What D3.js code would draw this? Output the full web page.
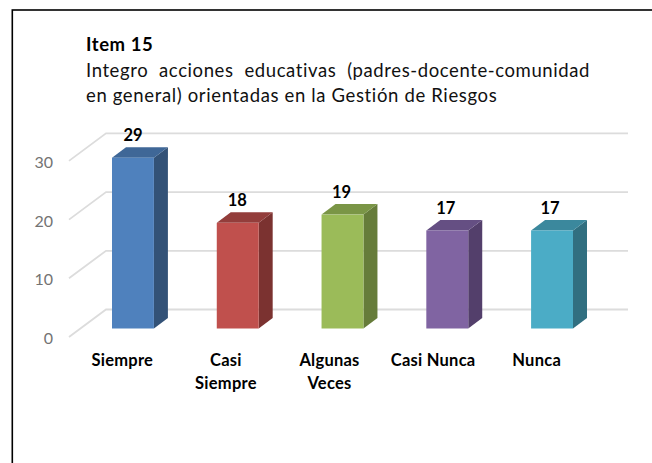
<!DOCTYPE html>
<html><head><meta charset="utf-8">
<script src="https://cdn.jsdelivr.net/npm/d3@7/dist/d3.min.js"></script>
<style>html,body{margin:0;padding:0;background:#fff;overflow:hidden}svg{display:block}text{font-family:Lato,Carlito,Calibri,sans-serif}</style>
</head><body><div id="chart"></div>
<script>
const categories=[["Siempre"],["Casi","Siempre"],["Algunas","Veces"],["Casi Nunca"],["Nunca"]];
const values=[29.1,18,19.4,16.7,16.7];
const frontColors=["#4f81bd","#c0504d","#9bbb59","#8064a2","#4bacc6"];
const sideColors=["#335277","#7b3230","#667c3a","#533f6b","#316f80"];
const topColors=["#3f6797","#933d3b","#7a9546","#654f83","#3b889d"];
const yTicks=[0,10,20,30];
const titleHead="Item 15";
const titleLines=["Integro acciones educativas (padres-docente-comunidad","en general) orientadas en la Gestión de Riesgos"];

const W=652,H=463,depthX=14,depthY=10.5;
const svg=d3.select("#chart").append("svg").attr("width",W).attr("height",H);
svg.append("rect").attr("x",12.3).attr("y",10).attr("width",700).attr("height",500).attr("fill","#fff").attr("stroke","#000").attr("stroke-width",1.6);

function fit(sel,width){
  const n=sel.text().length-1;
  sel.attr("letter-spacing",(width-sel.node().getComputedTextLength())/n);
}

const x=d3.scaleBand().domain(d3.range(values.length)).range([112,573]).paddingInner(0.6);
const y=d3.scaleLinear().domain([0,30]).range([328.5,152.4]);
const labelX=d3.scalePoint().domain(d3.range(values.length)).range([133,550]);
const catX=d3.scalePoint().domain(d3.range(values.length)).range([122.3,536.7]);

const grid=svg.append("g").attr("fill","none").attr("stroke","#dcdcdc").attr("stroke-width",1.8);
yTicks.forEach(t=>{
  const yb=y(t)-19;
  grid.append("path").attr("d",`M69,${yb+27.5}L106,${yb}H628`);
});
svg.append("g").selectAll("text").data(yTicks).join("text").attr("x",53).attr("y",t=>y(t)+15.4)
  .attr("text-anchor","end").attr("font-size",16).attr("fill","#737373").text(d=>d);

const bars=svg.append("g").selectAll("g").data(values).join("g");
bars.append("path").attr("fill",(d,i)=>sideColors[i]).attr("d",(d,i)=>{
  const r=x(i)+x.bandwidth();
  return `M${r},${y(d)}L${r+depthX},${y(d)-depthY}V${y(0)-depthY}L${r},${y(0)}Z`;});
bars.append("path").attr("fill",(d,i)=>topColors[i]).attr("d",(d,i)=>{
  const l=x(i),r=l+x.bandwidth();
  return `M${l},${y(d)}L${l+depthX},${y(d)-depthY}H${r+depthX}L${r},${y(d)}Z`;});
bars.append("rect").attr("x",(d,i)=>x(i)).attr("y",d=>y(d)).attr("width",x.bandwidth()).attr("height",d=>y(0)-y(d)).attr("fill",(d,i)=>frontColors[i]);
bars.append("text").attr("x",(d,i)=>labelX(i)).attr("y",d=>y(d)-16.4)
  .attr("text-anchor","middle").attr("font-size",16.5).attr("font-weight",700).attr("fill","#000").text(d=>d3.format(".0f")(d));

const cat=svg.append("g").selectAll("text").data(categories).join("text")
  .attr("text-anchor","middle").attr("font-size",16.5).attr("font-weight",700).attr("fill","#000").attr("letter-spacing",0.25);
cat.each(function(lines,i){
  d3.select(this).selectAll("tspan").data(lines).join("tspan")
    .attr("x",catX(i)).attr("y",(l,k)=>366+k*23.3).text(l=>l);
});

const h=svg.append("text").attr("x",86).attr("y",50.5).attr("font-size",18.5).attr("font-weight",700).attr("fill","#000").text(titleHead);
fit(h,66.7);
const t1=svg.append("text").attr("x",86).attr("y",76.5).attr("font-size",18.5).attr("fill","#111").attr("letter-spacing",0.6).text(titleLines[0]);
const gaps=titleLines[0].split(" ").length-1;
t1.attr("word-spacing",(590-86-t1.node().getComputedTextLength())/gaps);
const t2=svg.append("text").attr("x",86).attr("y",101.5).attr("font-size",18.5).attr("fill","#111").text(titleLines[1]);
fit(t2,411);
</script></body></html>
